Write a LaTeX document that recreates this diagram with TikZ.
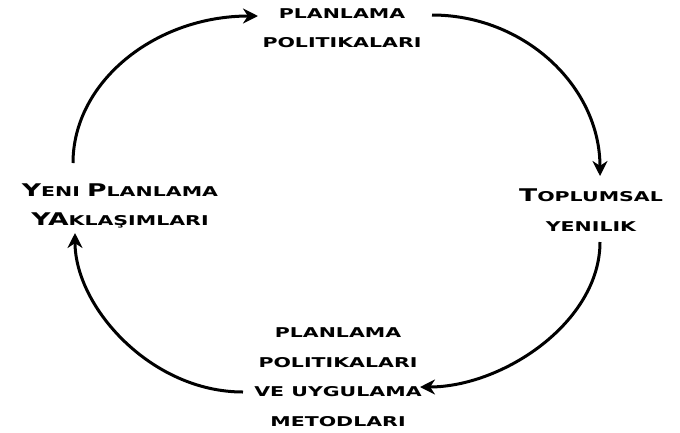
\documentclass[tikz,border=0pt]{standalone}
\usepackage{fontspec}
\newfontfamily\cgfont[FakeStretch=1.52]{DejaVu Sans}
\usetikzlibrary{arrows.meta}
\newcommand{\capbig}[1]{{\fontsize{17.5}{17.5}\selectfont #1}}
\begin{document}
\begin{tikzpicture}[x=1pt,y=-1pt,
  lbl/.style={font=\cgfont\bfseries\fontsize{13.5}{29.5}\selectfont, align=center, inner sep=0pt},
  cyc/.style={line width=3pt, -{Stealth[length=15pt,width=15pt]}}]
\useasboundingbox (0,0) rectangle (680,432);
\node[lbl] (top) at (342,28) {PLANLAMA\\POLITIKALARI};
\node[lbl] (right) at (591,210) {\capbig{T}OPLUMSAL\\YENILIK};
\node[lbl] (bottom) at (338,377) {PLANLAMA\\POLITIKALARI\\VE UYGULAMA\\METODLARI};
\node[lbl] (left) at (120,206) {\capbig{Y}ENI \capbig{P}LANLAMA\\\capbig{Y}\capbig{A}KLAŞIMLARI};
\coordinate (a1s) at (73,163);  \coordinate (a1e) at (258,16);
\coordinate (a2s) at (432,15);  \coordinate (a2e) at (600,176);
\coordinate (a3s) at (600,242); \coordinate (a3e) at (420,387);
\coordinate (a4s) at (243,392); \coordinate (a4e) at (75,233);
\draw[cyc] (a1s) .. controls (73,82) and (155,16) .. (a1e);
\draw[cyc] (a2s) .. controls (524,15) and (600,86) .. (a2e);
\draw[cyc] (a3s) .. controls (600,322) and (503,387) .. (a3e);
\draw[cyc] (a4s) .. controls (151,392) and (75,307) .. (a4e);
\end{tikzpicture}
\end{document}
